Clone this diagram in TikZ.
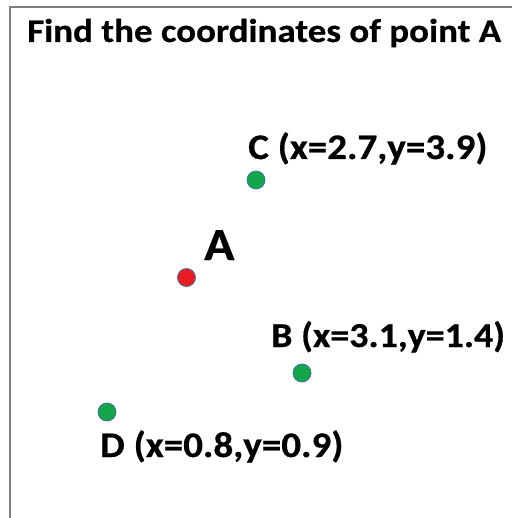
\documentclass[tikz,border=0pt]{standalone}
\usepackage{fontspec}
\setmainfont{Carlito}
\newfontfamily\titlefont{Carlito}[FakeStretch=1.12,BoldFeatures={FakeBold=0.6}]
\newfontfamily\lblfont{Carlito}[FakeStretch=1.085,BoldFeatures={FakeBold=0.6}]
\usepackage{xcolor}
\usepackage{tikz}
\definecolor{ptgreen}{HTML}{12A54A}
\definecolor{ptred}{HTML}{EC1C24}
\definecolor{ptedge}{HTML}{41719C}
\definecolor{framegray}{HTML}{7F7F7F}

\begin{document}
\begin{tikzpicture}[x=1pt,y=-1pt,
    dot/.style={circle,draw=ptedge,line width=0.8pt,minimum size=18pt,inner sep=0pt},
    lbl/.style={anchor=base west,inner sep=0pt,font=\lblfont\fontsize{36}{43}\selectfont\bfseries}]
    \useasboundingbox (0,0) rectangle (512,518);
    % frame
    \draw[framegray,line width=2pt] (10,518) -- (10,7) -- (512,7);
    % title
    \node[lbl,font=\titlefont\fontsize{33}{40}\selectfont\bfseries] (title) at (27,42) {Find the coordinates of point A};
    % points
    \node[dot,fill=ptgreen] (C) at (256,180) {};
    \node[dot,fill=ptred] (A) at (186.5,277.5) {};
    \node[dot,fill=ptgreen] (B) at (302,373) {};
    \node[dot,fill=ptgreen] (D) at (107,412) {};
    % labels
    \node[lbl] (Clbl) at (248,159) {C (x=2.7,y=3.9)};
    \node[lbl,font=\lblfont\fontsize{46}{55}\selectfont\bfseries] (Albl) at (204,260) {A};
    \node[lbl,font=\lblfont\fontsize{35}{42}\selectfont\bfseries] (Blbl) at (271,347) {B (x=3.1,y=1.4)};
    \node[lbl] (Dlbl) at (100,457) {D (x=0.8,y=0.9)};
\end{tikzpicture}
\end{document}
